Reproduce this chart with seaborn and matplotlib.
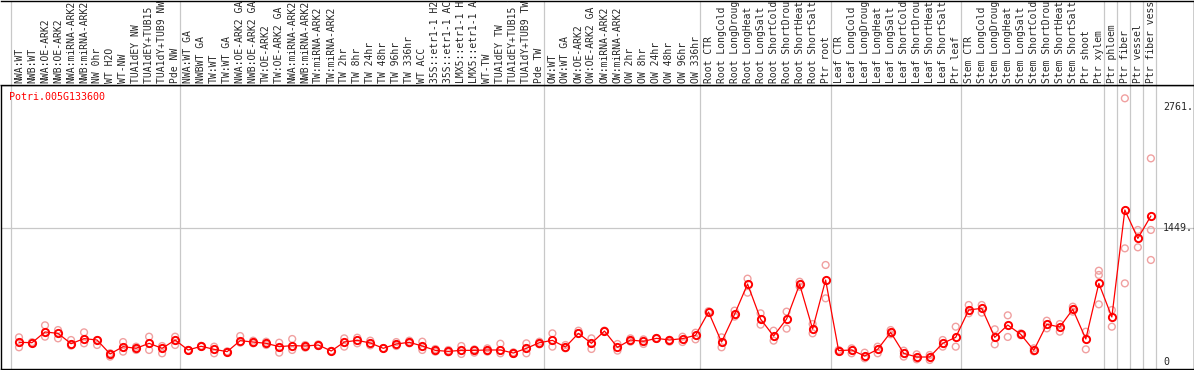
import numpy as np
import pandas as pd
import matplotlib
matplotlib.use("Agg")
import matplotlib.pyplot as plt
import matplotlib.transforms as mtransforms
import seaborn as sns

gene = "Potri.005G133600"

labels = [
    "NWA:WT", "NWB:WT", "NWA:OE-ARK2", "NWB:OE-ARK2", "NWA:miRNA-ARK2",
    "NWB:miRNA-ARK2", "NW 0hr", "WT H2O", "WT-NW", "TUA1dEY NW",
    "TUA1dEY+TUB15 NW", "TUA1dY+TUB9 NW", "Pde NW",
    "NWA:WT GA", "NWBWT GA", "TW:WT", "TW:WT GA", "NWA:OE-ARK2 GA",
    "NWB:OE-ARK2 GA", "TW:OE-ARK2", "TW:OE-ARK2 GA", "NWA:miRNA-ARK2",
    "NWB:miRNA-ARK2", "TW:miRNA-ARK2", "TW:miRNA-ARK2", "TW 2hr", "TW 8hr",
    "TW 24hr", "TW 48hr", "TW 96hr", "TW 336hr", "WT ACC", "35S::etr1-1 H2O",
    "35S::etr1-1 ACC", "LMX5::etr1-1 H2O", "LMX5::etr1-1 ACC", "WT-TW",
    "TUA1dEY TW", "TUA1dEY+TUB15 TW", "TUA1dY+TUB9 TW", "Pde TW",
    "OW:WT", "OW:WT GA", "OW:OE-ARK2", "OW:OE-ARK2 GA", "OW:miRNA-ARK2",
    "OW:miRNA-ARK2", "OW 2hr", "OW 8hr", "OW 24hr", "OW 48hr", "OW 96hr",
    "OW 336hr",
    "Root CTR", "Root LongCold", "Root LongDrought", "Root LongHeat",
    "Root LongSalt", "Root ShortCold", "Root ShortDrought", "Root ShortHeat",
    "Root ShortSalt", "Ptr root",
    "Leaf CTR", "Leaf LongCold", "Leaf LongDrought", "Leaf LongHeat",
    "Leaf LongSalt", "Leaf ShortCold", "Leaf ShortDrought", "Leaf ShortHeat",
    "Leaf ShortSalt", "Ptr leaf",
    "Stem CTR", "Stem LongCold", "Stem LongDrought", "Stem LongHeat",
    "Stem LongSalt", "Stem ShortCold", "Stem ShortDrought", "Stem ShortHeat",
    "Stem ShortSalt", "Ptr shoot", "Ptr xylem",
    "Ptr phloem", "Ptr fiber", "Ptr vessel", "Ptr fiber vessel",
]

means = [
    213, 209, 325, 310, 198, 253, 238, 87, 166, 148, 202, 148, 238,
    130, 170, 137, 112, 231, 216, 202, 166, 177, 173, 184, 119, 216, 234,
    206, 148, 195, 213, 173, 126, 115, 126, 126, 130, 130, 97, 148, 209,
    234, 162, 310, 202, 335, 159, 238, 224, 256, 238, 253, 289,
    541, 216, 516, 844, 465, 281, 465, 841, 357, 887,
    123, 130, 65, 137, 321, 94, 54, 54, 202, 267,
    563, 581, 267, 400, 299, 126, 408, 379, 570, 249, 851,
    487, 1645, 1338, 1580,
]

rep_a = [
    267, 215, 397, 346, 238, 321, 238, 95, 216, 166, 274, 173, 274,
    130, 175, 166, 115, 281, 231, 220, 209, 249, 184, 191, 119, 256, 263,
    231, 150, 216, 231, 220, 141, 130, 173, 137, 148, 198, 105, 202, 220,
    310, 184, 339, 256, 340, 195, 256, 245, 260, 240, 274, 317,
    550, 267, 556, 902, 527, 339, 545, 869, 411, 1050,
    130, 148, 101, 166, 346, 123, 83, 76, 238, 382,
    617, 617, 354, 505, 310, 148, 447, 411, 599, 328, 988,
    563, 2854, 1429, 2204,
]

rep_b = [
    159, 205, 274, 256, 177, 202, 184, 58, 112, 130, 130, 94, 184,
    130, 165, 94, 110, 209, 202, 184, 101, 130, 155, 173, 119, 166, 202,
    180, 146, 173, 202, 130, 112, 105, 87, 101, 112, 94, 87, 94, 191,
    166, 148, 310, 141, 330, 123, 220, 195, 250, 220, 216, 245,
    535, 159, 491, 750, 404, 231, 361, 815, 310, 689,
    112, 94, 40, 94, 300, 58, 29, 22, 166, 166,
    527, 534, 191, 271, 290, 115, 364, 328, 545, 137, 624,
    382, 1230, 1241, 1429,
]

extra_reps = {"Ptr xylem": 942, "Ptr fiber": 851, "Ptr fiber vessel": 1104}

group_starts = [0, 13, 41, 53, 63, 73, 84, 85, 86, 87, 88]
y_ticks = [0, 1449, 2761]
y_tick_labels = ["0", "1449.", "2761."]

# long tables for seaborn
pos = np.arange(len(labels))
mean_df = pd.DataFrame({"x": pos, "value": means})
rep_df = pd.concat([
    pd.DataFrame({"x": pos, "value": rep_a}),
    pd.DataFrame({"x": pos, "value": rep_b}),
    pd.DataFrame({"x": [labels.index(k) for k in extra_reps],
                  "value": list(extra_reps.values())}),
], ignore_index=True)

sns.set_style("white")
plt.rcParams["font.family"] = ["DejaVu Sans Mono"]

W, H = 1194, 370
fig = plt.figure(figsize=(W / 100, H / 100), dpi=100)
ax = fig.add_axes([0.5 / W, 1 / H, 1193 / W, 284 / H])
ax_lab = fig.add_axes([0.5 / W, 285 / H, 1193 / W, 84.5 / H])

step = 13.01
x_lo = (0.5 - 19) / step
x_hi = (1193.5 - 19) / step
for a in (ax, ax_lab):
    a.set_xlim(x_lo, x_hi)
    a.set_xticks([])
    a.set_yticks([])
    for b in group_starts:
        a.axvline(b - 0.62, color="#c8c8c8", lw=0.9, zorder=0)
    for s in a.spines.values():
        s.set_color("black")
        s.set_linewidth(1.0)

ax.set_ylim(-75.8, 2998)
ax_lab.set_ylim(0, 1)
ax_lab.spines["left"].set_visible(False)

ax.axhline(1449, color="#c8c8c8", lw=0.9, zorder=0)

sns.scatterplot(data=rep_df, x="x", y="value", ax=ax, marker="o", s=24,
                facecolor="none", edgecolor="#f0a0a0", linewidth=1.0,
                zorder=2, legend=False)
sns.lineplot(data=mean_df, x="x", y="value", ax=ax, color="red", lw=0.9,
             marker="o", ms=5.2, mfc="none", mec="red", mew=1.4, zorder=3)
ax.set_xlabel("")
ax.set_ylabel("")

# sample labels, rotated, clipped at the top of the figure like the original
trans = mtransforms.blended_transform_factory(ax_lab.transData, ax_lab.transAxes)
for i, lab in enumerate(labels):
    ax_lab.text(i, 0.025, lab, rotation=90, ha="center", va="bottom",
                fontsize=7.0, transform=trans, clip_on=True)

# value labels on the right
for v, t in zip(y_ticks, y_tick_labels):
    ax.text((1163 - 19) / step, v, t, ha="left", va="center", fontsize=7.2)

ax.text((9 - 19) / step, 2868, gene, color="red", ha="left", va="center",
        fontsize=7.2)

fig.savefig("out.png", dpi=100)
